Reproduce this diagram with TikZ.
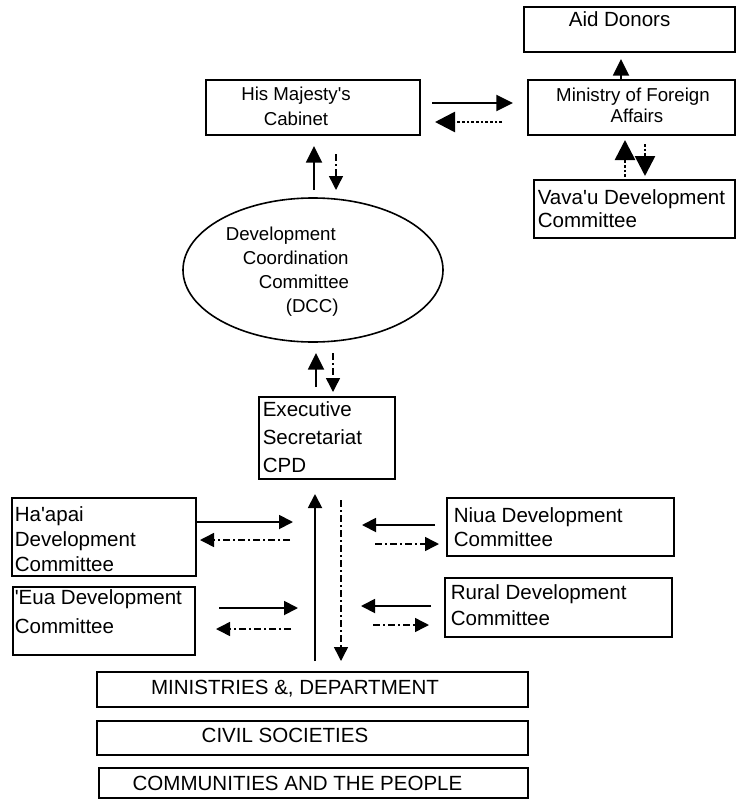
\documentclass[tikz,border=0pt]{standalone}
\usepackage{fontspec}
\setmainfont{Liberation Sans}
\usetikzlibrary{arrows.meta,shapes.geometric}

\tikzset{every picture/.style={line width=1.2pt}}
\tikzset{
  box/.style={draw, rectangle, inner sep=0pt},
  oval/.style={draw, ellipse, inner sep=0pt},
  lbl/.style={inner sep=0pt, anchor=base west, align=left, font=\fontsize{15.4}{#1}\selectfont},
  lbl/.default=18pt,
  lblsm/.style={lbl, font=\fontsize{14}{#1}\selectfont},
  lblsm/.default=18pt,
  solidarr/.style={-{Triangle[length=10.5pt,width=10.5pt]}, line width=1.4pt},
  bigsolidarr/.style={-{Triangle[length=12.5pt,width=12pt]}, line width=1.4pt},
  dotarr/.style={-{Triangle[length=15pt,width=15pt]}, line width=2pt, dash pattern=on 2pt off 1.5pt},
  dotdasharr/.style={-{Triangle[length=10.5pt,width=10.5pt]}, line width=1.1pt, dash pattern=on 5.25pt off 2.25pt on 1.5pt off 2.25pt},
}

\begin{document}
\begin{tikzpicture}[x=0.75pt,y=0.75pt,yscale=-1,xscale=1]
\useasboundingbox (0,0) rectangle (736,799);

% Boxes
\node[box, minimum width=158.25pt, minimum height=33.75pt] (aid) at (629.5,29.5) {};
\node[box, minimum width=155.25pt, minimum height=41.25pt] (mfa) at (631.5,107.5) {};
\node[box, minimum width=160.5pt, minimum height=41.25pt] (cab) at (313,107.5) {};
\node[box, minimum width=150.75pt, minimum height=43.5pt] (vav) at (634.5,209) {};
\node[oval, minimum width=195pt, minimum height=108pt] (dcc) at (313,270) {};
\node[box, minimum width=102pt, minimum height=61.5pt] (exe) at (327,438) {};
\node[box, minimum width=138pt, minimum height=58.5pt] (hap) at (104,537) {};
\node[box, minimum width=136.5pt, minimum height=51pt] (eua) at (104,621) {};
\node[box, minimum width=170.25pt, minimum height=43.5pt] (niu) at (560.5,527) {};
\node[box, minimum width=170.25pt, minimum height=44.25pt] (rur) at (558.5,607.5) {};
\node[box, minimum width=323.25pt, minimum height=26.25pt] (min) at (312.5,689.5) {};
\node[box, minimum width=323.25pt, minimum height=25.5pt] (civ) at (312.5,738) {};
\node[box, minimum width=321.75pt, minimum height=22.5pt] (com) at (313.5,783) {};

% Text Node (placed at the baseline of the last line)
\node[lbl] (aidtxt) at (568,27) {Aid Donors};
\node[lblsm=15.75pt, anchor=base, align=center] (mfatxt) at (633,122) {Ministry of Foreign\\\hspace{6pt}Affairs};
\node[lblsm=18.75pt, anchor=base, align=center] (cabtxt) at (296,125) {His Majesty\textquotesingle s\\Cabinet};
\node[lbl=17.25pt] (vavtxt) at (537,227) {Vava\textquotesingle u Development\\Committee};
\node[lblsm=18pt] (dcctxt) at (225,312) {Development\\\hspace{12.75pt}Coordination\\\hspace{24.75pt}Committee\\\hspace{45pt}(DCC)};
\node[lbl=21pt] (exetxt) at (262,472) {Executive\\Secretariat\\CPD};
\node[lbl=18.4pt] (haptxt) at (14,571) {Ha\textquotesingle apai\\Development\\Committee};
\node[lbl=21.75pt] (euatxt) at (14,633) {\textquotesingle Eua Development\\Committee};
\node[lbl=18pt] (niutxt) at (453,546) {Niua Development\\Committee};
\node[lbl=19.5pt] (rurtxt) at (450,625) {Rural Development\\Committee};
\node[lbl, anchor=base] (mintxt) at (295,694) {MINISTRIES \&, DEPARTMENT};
\node[lbl, anchor=base] (civtxt) at (285,742) {CIVIL SOCIETIES};
\node[lbl, anchor=base] (comtxt) at (297.5,790) {COMMUNITIES AND THE PEOPLE};

% Arrow ends
\foreach \p/\x/\y in {cm1/432/103, cm2/513/103, mc1/502/122, mc2/435/122,
    ma1/621/80, ma2/621/59, vm1/625/177, vm2/625/140, mv1/645/144, mv2/645/176,
    dc1/314/190, dc2/314/146, cd1/336/154, cd2/336/190,
    ed1/316/387, ed2/316/353, de1/333/353, de2/333/392,
    hp1/196/522, hp2/293/522, ph1/290/540, ph2/200/540,
    eu1/219/608, eu2/298/608, ue1/291/629, ue2/216/629,
    ni1/435/525, ni2/362/525, in1/375/544, in2/439/544,
    ru1/431/606, ru2/361/606, ur1/373/625, ur2/429/625,
    up1/315/661, up2/315/494, dn1/341/500, dn2/341/661}
  \coordinate (\p) at (\x,\y);

% Arrows
\draw[bigsolidarr] (cm1) -- (cm2);
\draw[dotarr] (mc1) -- (mc2);
\draw[bigsolidarr] (ma1) -- (ma2);
\draw[dotarr] (vm1) -- (vm2);
\draw[dotarr] (mv1) -- (mv2);
\draw[bigsolidarr] (dc1) -- (dc2);
\draw[dotdasharr] (cd1) -- (cd2);
\draw[bigsolidarr] (ed1) -- (ed2);
\draw[dotdasharr] (de1) -- (de2);
\draw[solidarr] (hp1) -- (hp2);
\draw[dotdasharr] (ph1) -- (ph2);
\draw[solidarr] (eu1) -- (eu2);
\draw[dotdasharr] (ue1) -- (ue2);
\draw[solidarr] (ni1) -- (ni2);
\draw[dotdasharr] (in1) -- (in2);
\draw[solidarr] (ru1) -- (ru2);
\draw[dotdasharr] (ur1) -- (ur2);
\draw[solidarr] (up1) -- (up2);
\draw[dotdasharr] (dn1) -- (dn2);

\end{tikzpicture}
\end{document}
